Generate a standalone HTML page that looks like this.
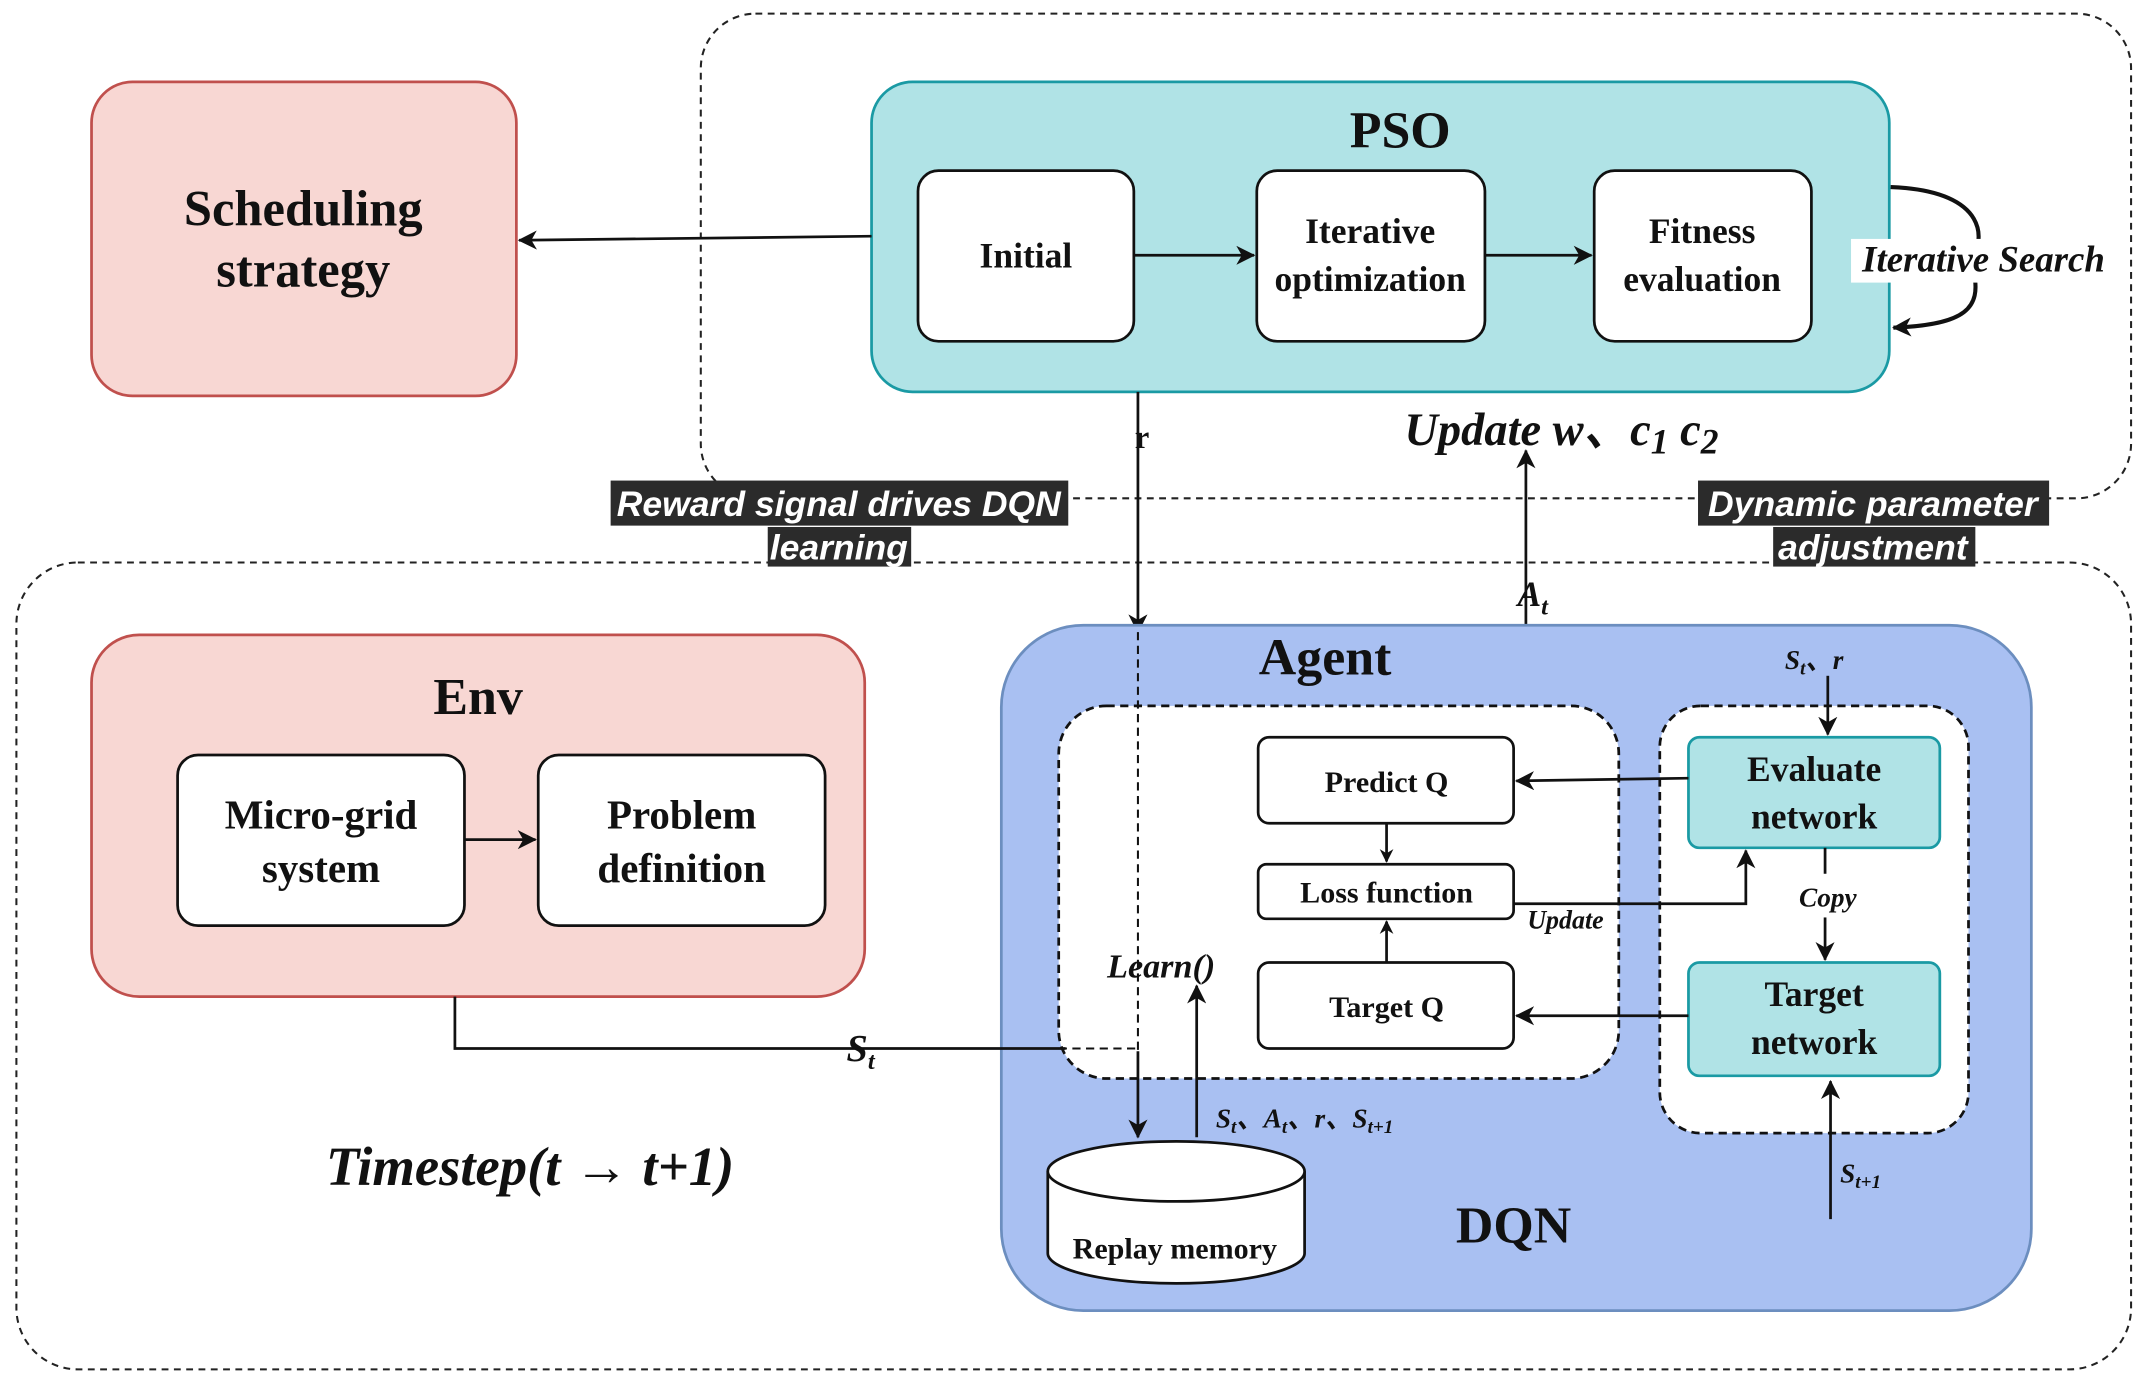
<!DOCTYPE html>
<html><head><meta charset="utf-8"><style>
html,body{margin:0;padding:0;background:#fff}
svg{display:block}
text{font-family:"Liberation Serif",serif;font-weight:bold;fill:#111}
.s{font-family:"Liberation Sans",sans-serif}
</style></head><body>
<svg width="2142" height="1383" viewBox="0 0 1568 1013" preserveAspectRatio="none" xmlns="http://www.w3.org/2000/svg">
<defs><marker id="a" markerWidth="10" markerHeight="10" refX="9" refY="5" orient="auto" markerUnits="userSpaceOnUse"><path d="M0,0 L10,5 L0,10 L3,5 z" fill="#111"/></marker>
<marker id="b" markerWidth="14" markerHeight="14" refX="13" refY="7" orient="auto" markerUnits="userSpaceOnUse"><path d="M0,0 L14,7 L0,14 L4,7 z" fill="#111"/></marker></defs>
<rect x="513" y="10" width="1047" height="355" rx="40" fill="none" stroke="#222" stroke-width="1.5" stroke-dasharray="5,4"/>
<rect x="12" y="412" width="1548" height="591" rx="45" fill="none" stroke="#222" stroke-width="1.5" stroke-dasharray="5,4"/>
<rect x="67" y="60" width="311" height="230" rx="30" fill="#f8d7d3" stroke="#c0504d" stroke-width="2"/>
<text x="222" y="165" font-size="37" text-anchor="middle">Scheduling</text>
<text x="222" y="210" font-size="37" text-anchor="middle">strategy</text>
<rect x="638" y="60" width="745" height="227" rx="30" fill="#b0e3e6" stroke="#1a9aa4" stroke-width="2"/>
<text x="1025" y="108" font-size="38" text-anchor="middle">PSO</text>
<rect x="672" y="125" width="158" height="125" rx="15" fill="#fff" stroke="#111" stroke-width="2"/>
<text x="751" y="196" font-size="26" text-anchor="middle">Initial</text>
<rect x="920" y="125" width="167" height="125" rx="15" fill="#fff" stroke="#111" stroke-width="2"/>
<text x="1003" y="178" font-size="26" text-anchor="middle">Iterative</text>
<text x="1003" y="213" font-size="26" text-anchor="middle">optimization</text>
<rect x="1167" y="125" width="159" height="125" rx="15" fill="#fff" stroke="#111" stroke-width="2"/>
<text x="1246" y="178" font-size="26" text-anchor="middle">Fitness</text>
<text x="1246" y="213" font-size="26" text-anchor="middle">evaluation</text>
<line x1="830" y1="187" x2="918" y2="187" stroke="#111" stroke-width="2" marker-end="url(#b)"/>
<line x1="1087" y1="187" x2="1165" y2="187" stroke="#111" stroke-width="2" marker-end="url(#b)"/>
<path d="M1384,137 C1460,140 1450,180 1445,185 M1445,200 C1450,225 1440,238 1386,240" fill="none" stroke="#111" stroke-width="3" marker-end="url(#b)"/>
<rect x="1355" y="175" width="195" height="32" fill="#fff"/>
<text x="1452" y="199" font-size="27" text-anchor="middle" font-style="italic">Iterative Search</text>
<line x1="638" y1="173" x2="380" y2="176" stroke="#111" stroke-width="2" marker-end="url(#b)"/>
<line x1="833" y1="287" x2="833" y2="463" stroke="#111" stroke-width="2" marker-end="url(#b)"/>
<text x="836" y="328" font-size="24" text-anchor="middle">r</text>
<text x="1143" y="326" font-size="34" text-anchor="middle" font-style="italic">Update w、c<tspan font-size="26" dy="6">1</tspan><tspan dy="-6"> c</tspan><tspan font-size="26" dy="6">2</tspan></text>
<line x1="1117" y1="517" x2="1117" y2="330" stroke="#111" stroke-width="2" marker-end="url(#b)"/>
<rect x="447" y="352" width="335" height="33" fill="#2b2b2b"/>
<rect x="562" y="386" width="105" height="29" fill="#2b2b2b"/>
<text class="s" x="614" y="378" font-size="26" font-weight="normal" font-style="italic" text-anchor="middle" style="fill:#fff">Reward signal drives DQN</text>
<text class="s" x="614" y="410" font-size="26" font-weight="normal" font-style="italic" text-anchor="middle" style="fill:#fff">learning</text>
<rect x="1243" y="352" width="257" height="33" fill="#2b2b2b"/>
<rect x="1298" y="386" width="148" height="29" fill="#2b2b2b"/>
<text class="s" x="1371" y="378" font-size="26" font-weight="normal" font-style="italic" text-anchor="middle" style="fill:#fff">Dynamic parameter</text>
<text class="s" x="1371" y="410" font-size="26" font-weight="normal" font-style="italic" text-anchor="middle" style="fill:#fff">adjustment</text>
<text x="1122" y="444" font-size="26" font-style="italic" text-anchor="middle">A<tspan font-size="18" dy="6">t</tspan></text>
<rect x="67" y="465" width="566" height="265" rx="35" fill="#f8d7d3" stroke="#c0504d" stroke-width="2"/>
<text x="350" y="523" font-size="38" text-anchor="middle">Env</text>
<rect x="130" y="553" width="210" height="125" rx="15" fill="#fff" stroke="#111" stroke-width="2"/>
<text x="235" y="607" font-size="30" text-anchor="middle">Micro-grid</text>
<text x="235" y="646" font-size="30" text-anchor="middle">system</text>
<rect x="394" y="553" width="210" height="125" rx="15" fill="#fff" stroke="#111" stroke-width="2"/>
<text x="499" y="607" font-size="30" text-anchor="middle">Problem</text>
<text x="499" y="646" font-size="30" text-anchor="middle">definition</text>
<line x1="340" y1="615" x2="392" y2="615" stroke="#111" stroke-width="2" marker-end="url(#b)"/>
<text x="388" y="868" font-size="40" font-style="italic" text-anchor="middle">Timestep(t → t+1)</text>
<rect x="733" y="458" width="754" height="502" rx="60" fill="#a9c0f2" stroke="#6c8ebf" stroke-width="2"/>
<text x="970" y="494" font-size="38" text-anchor="middle">Agent</text>
<text x="1108" y="910" font-size="38" text-anchor="middle">DQN</text>
<rect x="775" y="517" width="410" height="273" rx="35" fill="#fff" stroke="#111" stroke-width="2" stroke-dasharray="6,4"/>
<rect x="1215" y="517" width="226" height="313" rx="30" fill="#fff" stroke="#111" stroke-width="2" stroke-dasharray="6,4"/>
<polyline points="333,730 333,768 780,768" fill="none" stroke="#111" stroke-width="2"/>
<text x="630" y="777" font-size="28" font-style="italic" text-anchor="middle">S<tspan font-size="18" dy="6">t</tspan></text>
<line x1="833" y1="463" x2="833" y2="770" stroke="#111" stroke-width="1.5" stroke-dasharray="6,4"/>
<line x1="775" y1="768" x2="833" y2="768" stroke="#111" stroke-width="1.5" stroke-dasharray="6,4"/>
<line x1="833" y1="770" x2="833" y2="833" stroke="#111" stroke-width="2" marker-end="url(#b)"/>
<rect x="921" y="540" width="187" height="63" rx="8" fill="#fff" stroke="#111" stroke-width="2"/>
<text x="1015" y="580" font-size="22" text-anchor="middle">Predict Q</text>
<rect x="921" y="633" width="187" height="40" rx="6" fill="#fff" stroke="#111" stroke-width="2"/>
<text x="1015" y="661" font-size="22" text-anchor="middle">Loss function</text>
<rect x="921" y="705" width="187" height="63" rx="8" fill="#fff" stroke="#111" stroke-width="2"/>
<text x="1015" y="745" font-size="22" text-anchor="middle">Target Q</text>
<rect x="1236" y="540" width="184" height="81" rx="8" fill="#b0e3e6" stroke="#1a9aa4" stroke-width="2"/>
<text x="1328" y="572" font-size="26" text-anchor="middle">Evaluate</text>
<text x="1328" y="607" font-size="26" text-anchor="middle">network</text>
<rect x="1236" y="705" width="184" height="83" rx="8" fill="#b0e3e6" stroke="#1a9aa4" stroke-width="2"/>
<text x="1328" y="737" font-size="26" text-anchor="middle">Target</text>
<text x="1328" y="772" font-size="26" text-anchor="middle">network</text>
<line x1="1236" y1="570" x2="1110" y2="572" stroke="#111" stroke-width="2" marker-end="url(#b)"/>
<line x1="1236" y1="744" x2="1110" y2="744" stroke="#111" stroke-width="2" marker-end="url(#b)"/>
<line x1="1015" y1="603" x2="1015" y2="631" stroke="#111" stroke-width="2" marker-end="url(#a)"/>
<line x1="1015" y1="705" x2="1015" y2="675" stroke="#111" stroke-width="2" marker-end="url(#a)"/>
<polyline points="1108,662 1278,662 1278,623" fill="none" stroke="#111" stroke-width="2" marker-end="url(#b)"/>
<text x="1146" y="680" font-size="19" font-style="italic" text-anchor="middle">Update</text>
<line x1="1336" y1="621" x2="1336" y2="640" stroke="#111" stroke-width="2"/>
<line x1="1336" y1="672" x2="1336" y2="703" stroke="#111" stroke-width="2" marker-end="url(#b)"/>
<text x="1338" y="664" font-size="20" font-style="italic" text-anchor="middle">Copy</text>
<line x1="1338" y1="495" x2="1338" y2="538" stroke="#111" stroke-width="2" marker-end="url(#b)"/>
<text x="1328" y="490" font-size="20" font-style="italic" text-anchor="middle">S<tspan font-size="14" dy="4">t</tspan><tspan dy="-4">、r</tspan></text>
<line x1="1340" y1="893" x2="1340" y2="792" stroke="#111" stroke-width="2" marker-end="url(#b)"/>
<text x="1362" y="866" font-size="20" font-style="italic" text-anchor="middle">S<tspan font-size="14" dy="4">t+1</tspan></text>
<line x1="876" y1="833" x2="876" y2="722" stroke="#111" stroke-width="2" marker-end="url(#b)"/>
<text x="850" y="716" font-size="25" font-style="italic" text-anchor="middle">Learn()</text>
<text x="955" y="826" font-size="20" font-style="italic" text-anchor="middle">S<tspan font-size="14" dy="4">t</tspan><tspan dy="-4">、A</tspan><tspan font-size="14" dy="4">t</tspan><tspan dy="-4">、r、S</tspan><tspan font-size="14" dy="4">t+1</tspan></text>
<path d="M767,858 L767,918 A94,22 0 0 0 955,918 L955,858" fill="#fff" stroke="#111" stroke-width="2"/>
<ellipse cx="861" cy="858" rx="94" ry="22" fill="#fff" stroke="#111" stroke-width="2"/>
<text x="860" y="922" font-size="22" text-anchor="middle">Replay memory</text>
</svg>
</body></html>
